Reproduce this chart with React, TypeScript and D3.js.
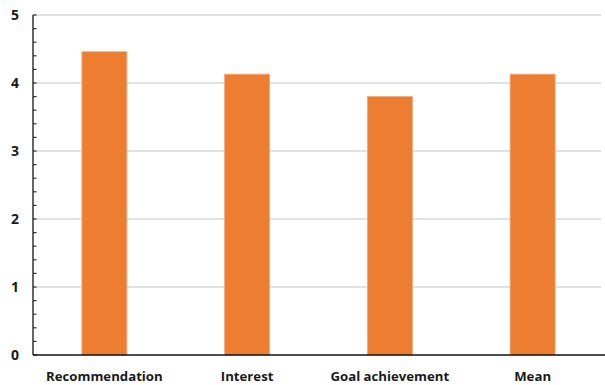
import React from "react";
import * as d3 from "d3";

const categories = ["Recommendation", "Interest", "Goal achievement", "Mean"];
const scores = [4.46, 4.13, 3.8, 4.13];
const yTicks = [0, 1, 2, 3, 4, 5];
const minorTicks = d3.range(0, 5.0001, 0.2);

const W = 605;
const H = 385;
const margin = { top: 15, right: 1, bottom: 30, left: 33 };

export default function App() {
  const x = d3
    .scaleBand<string>()
    .domain(categories)
    .range([margin.left, W - margin.right])
    .paddingInner(0.685)
    .paddingOuter(0.3425);
  const y = d3.scaleLinear().domain([0, 5]).range([H - margin.bottom, margin.top]);
  const font = "'Open Sans', 'DejaVu Sans', sans-serif";

  return (
    <svg
      width={W}
      height={H}
      style={{ position: "absolute", left: 0, top: 0, background: "#fff" }}
    >
      {/* horizontal gridlines */}
      {yTicks.slice(1).map((t) => (
        <line
          key={"g" + t}
          x1={margin.left}
          x2={W - 4}
          y1={y(t)}
          y2={y(t)}
          stroke="#d9d9d9"
          strokeWidth={1.3}
        />
      ))}
      {/* bars */}
      {categories.map((c, i) => (
        <rect
          key={c}
          x={x(c)}
          y={y(scores[i])}
          width={x.bandwidth()}
          height={y(0) - y(scores[i])}
          fill="#ed7d31"
          stroke="#f4a878"
          strokeWidth={0.8}
        />
      ))}
      {/* y axis with minor ticks */}
      <line
        x1={margin.left}
        x2={margin.left}
        y1={y(5)}
        y2={y(0)}
        stroke="#333"
        strokeWidth={1.5}
      />
      {minorTicks.map((t) => (
        <line
          key={"m" + t.toFixed(1)}
          x1={margin.left}
          x2={margin.left + 3.5}
          y1={y(t)}
          y2={y(t)}
          stroke="#333"
          strokeWidth={1.2}
        />
      ))}
      {/* x axis */}
      <line
        x1={margin.left}
        x2={W}
        y1={y(0)}
        y2={y(0)}
        stroke="#111"
        strokeWidth={1.5}
      />
      {yTicks.map((t) => (
        <text
          key={"t" + t}
          x={19}
          y={y(t)}
          dy="0.35em"
          textAnchor="end"
          fontFamily={font}
          fontWeight="bold"
          fontSize={14}
          fill="#1a1a1a"
        >
          {t}
        </text>
      ))}
      {categories.map((c) => (
        <text
          key={"l" + c}
          x={(x(c) ?? 0) + x.bandwidth() / 2}
          y={381}
          textAnchor="middle"
          fontFamily={font}
          fontWeight="bold"
          fontSize={13.2}
          fill="#1a1a1a"
        >
          {c}
        </text>
      ))}
    </svg>
  );
}
